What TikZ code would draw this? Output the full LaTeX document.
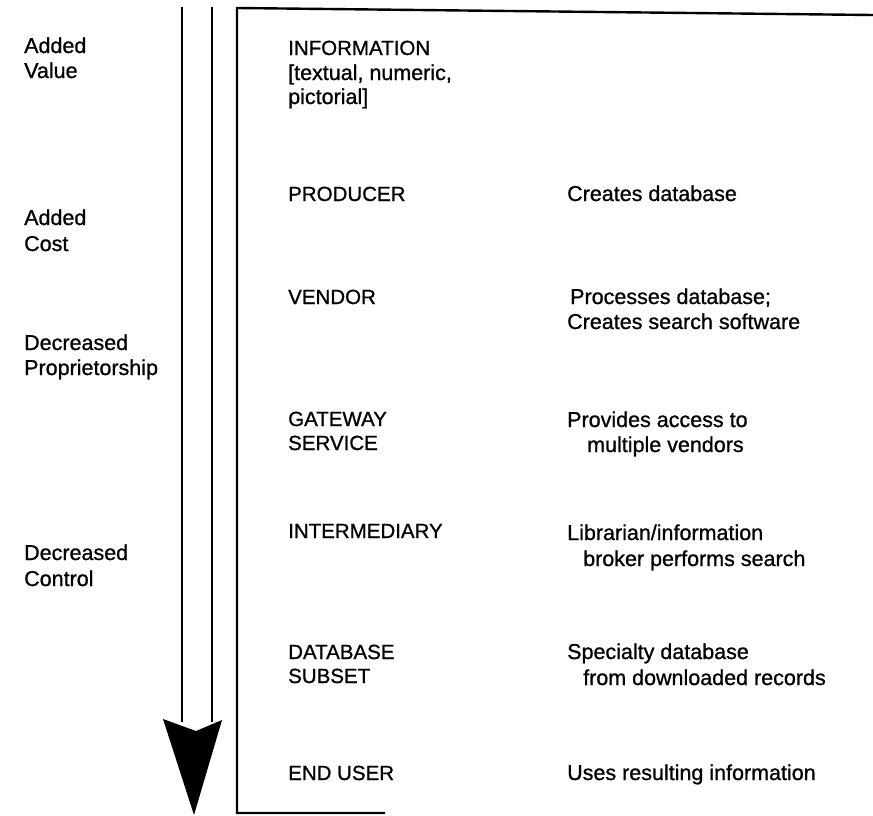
\documentclass[tikz,border=0pt]{standalone}
\usepackage{fontspec}
\setmainfont{Liberation Sans}[FakeBold=0.9]
\begin{document}
\begin{tikzpicture}[x=1pt,y=-1pt,
  lbl/.style={anchor=base west,inner sep=0pt,font=\fontsize{21.5}{25}\selectfont},
  uplbl/.style={anchor=base west,inner sep=0pt,font=\fontsize{20.5}{25}\selectfont},
  rule/.style={line width=2.6pt,line cap=butt}]
\useasboundingbox (0,0) rectangle (873,815);
% arrow
\draw[rule] (182,7) -- (182,722);
\draw[rule] (212,7) -- (212,722);
\fill (163,719) -- (196,731) -- (222,720) -- (194,815) -- cycle;
% box
\draw[line width=2.4pt] (873,15) -- (237,8) -- (237,813) -- (385,813);
% left column
\node[lbl] (lv1) at (24,53) {Added};
\node[lbl] (lv2) at (24,78) {Value};
\node[lbl] (lc1) at (24,225) {Added};
\node[lbl] (lc2) at (24,251) {Cost};
\node[lbl] (lp1) at (24,350) {Decreased};
\node[lbl] (lp2) at (24,375) {Proprietorship};
\node[lbl] (lk1) at (24,560) {Decreased};
\node[lbl] (lk2) at (24,586) {Control};
% middle column
\node[uplbl] (m1a) at (288,55) {INFORMATION};
\node[lbl] (m1b) at (288,80) {[textual, numeric,};
\node[lbl] (m1c) at (288,104) {pictorial]};
\node[uplbl] (m2) at (288,201) {PRODUCER};
\node[uplbl] (m3) at (288,304) {VENDOR};
\node[uplbl] (m4a) at (288,426) {GATEWAY};
\node[uplbl] (m4b) at (288,450) {SERVICE};
\node[uplbl] (m5) at (288,538) {INTERMEDIARY};
\node[uplbl] (m6a) at (288,659) {DATABASE};
\node[uplbl] (m6b) at (288,683) {SUBSET};
\node[uplbl] (m7) at (288,780) {END USER};
% right column
\node[lbl] (r2) at (567,201) {Creates database};
\node[lbl] (r3a) at (570,304) {Processes database;};
\node[lbl] (r3b) at (567,329) {Creates search software};
\node[lbl] (r4a) at (567,427) {Provides access to};
\node[lbl] (r4b) at (587,452) {multiple vendors};
\node[lbl] (r5a) at (567,540) {Librarian/information};
\node[lbl] (r5b) at (583,566) {broker performs search};
\node[lbl] (r6a) at (567,659) {Specialty database};
\node[lbl] (r6b) at (583,685) {from downloaded records};
\node[lbl] (r7) at (567,780) {Uses resulting information};
\end{tikzpicture}
\end{document}
